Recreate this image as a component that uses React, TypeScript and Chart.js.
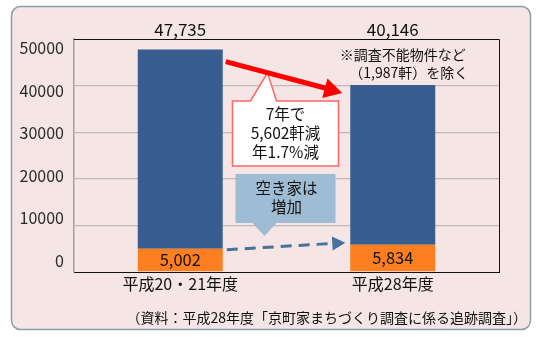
import { useEffect, useRef } from "react";
import { Chart, registerables } from "chart.js";

Chart.register(...registerables);

const categories = ["平成20・21年度", "平成28年度"];
const totalHouses = [47735, 40146];
const vacantHouses = [5002, 5834];
const yTicks = [0, 10000, 20000, 30000, 40000, 50000];
const totalLabels = ["47,735", "40,146"];
const vacantLabels = ["5,002", "5,834"];
const noteLines = ["※調査不能物件など", "（1,987軒）を除く"];
const decreaseLines = ["7年で", "5,602軒減", "年1.7%減"];
const vacantLines = ["空き家は", "増加"];
const sourceText = "（資料：平成28年度「京町家まちづくり調査に係る追跡調査」）";

const occupiedHouses = totalHouses.map((t, i) => t - vacantHouses[i]);

const FONT = "'Noto Sans CJK JP', 'Noto Sans', sans-serif";
const INK = "#111111";

function arrowHead(ctx: CanvasRenderingContext2D, x0: number, y0: number, x1: number, y1: number, len: number, half: number) {
  const dx = x1 - x0, dy = y1 - y0;
  const d = Math.hypot(dx, dy);
  const ux = dx / d, uy = dy / d;
  const bx = x1 - ux * len, by = y1 - uy * len;
  ctx.beginPath();
  ctx.moveTo(x1, y1);
  ctx.lineTo(bx - uy * half, by + ux * half);
  ctx.lineTo(bx + uy * half, by - ux * half);
  ctx.closePath();
  ctx.fill();
  return { bx, by };
}

const decor = {
  id: "decor",
  beforeDraw(chart: any) {
    const ctx = chart.ctx as CanvasRenderingContext2D;
    ctx.save();
    ctx.fillStyle = "#ffffff";
    ctx.fillRect(0, 0, chart.width, chart.height);
    ctx.beginPath();
    (ctx as any).roundRect(11.5, 6.5, 519, 323, 9);
    ctx.fillStyle = "#f6e5e5";
    ctx.fill();
    ctx.lineWidth = 1.5;
    ctx.strokeStyle = "#8c9fa7";
    ctx.stroke();
    ctx.restore();
  },
  afterDraw(chart: any) {
    const ctx = chart.ctx as CanvasRenderingContext2D;
    const ca = chart.chartArea;
    const xs = chart.scales.x;
    const orange = chart.getDatasetMeta(0).data;
    const blue = chart.getDatasetMeta(1).data;
    ctx.save();

    // frame top / right
    ctx.strokeStyle = "#111";
    ctx.lineWidth = 1;
    ctx.beginPath();
    ctx.moveTo(ca.left, Math.round(ca.top) + 0.5);
    ctx.lineTo(Math.round(ca.right) + 0.5, Math.round(ca.top) + 0.5);
    ctx.lineTo(Math.round(ca.right) + 0.5, ca.bottom);
    ctx.stroke();

    ctx.textAlign = "center";
    ctx.textBaseline = "middle";
    ctx.fillStyle = INK;

    // totals
    ctx.font = `17px ${FONT}`;
    blue.forEach((b: any, i: number) => {
      ctx.fillText(totalLabels[i], b.x, ca.top - 9);
    });
    // vacant values
    ctx.font = `16.5px ${FONT}`;
    orange.forEach((o: any, i: number) => {
      ctx.fillText(vacantLabels[i], o.x, (o.y + o.base) / 2);
    });

    const b1 = blue[0], b2 = blue[1];
    const o1 = orange[0], o2 = orange[1];
    const b1Right = b1.x + b1.width / 2;
    const b2Left = b2.x - b2.width / 2;
    const cx = xs.getPixelForValue(0.5) - 1;

    // note
    ctx.font = `14px ${FONT}`;
    ctx.fillText(noteLines[0], b2.x + 10, ca.top + 16);
    ctx.fillText(noteLines[1], b2.x + 16, ca.top + 34);

    // red arrow geometry
    const ax0 = b1Right + 3, ay0 = b1.y + 12;
    const ax1 = b2Left - 8, ay1 = b2.y + 8;
    const apexX = cx - 18;
    const apexY = ay0 + ((apexX - ax0) * (ay1 - ay0)) / (ax1 - ax0);

    // red callout
    const rL = cx - 53, rR = cx + 53, rT = ca.top + 62, rB = ca.top + 127;
    ctx.beginPath();
    ctx.moveTo(rL, rT);
    ctx.lineTo(cx - 35, rT);
    ctx.lineTo(apexX, apexY);
    ctx.lineTo(cx - 9, rT);
    ctx.lineTo(rR, rT);
    ctx.lineTo(rR, rB);
    ctx.lineTo(rL, rB);
    ctx.closePath();
    ctx.fillStyle = "#ffffff";
    ctx.fill();
    ctx.strokeStyle = "#ff6666";
    ctx.lineWidth = 1.5;
    ctx.stroke();
    ctx.fillStyle = INK;
    ctx.font = `15.5px ${FONT}`;
    decreaseLines.forEach((t, i) => ctx.fillText(t, cx, rT + 13 + i * 19));

    // red arrow
    ctx.fillStyle = "#ff0000";
    const h = arrowHead(ctx, ax0, ay0, ax1, ay1, 18, 10);
    ctx.strokeStyle = "#ff0000";
    ctx.lineWidth = 5;
    ctx.beginPath();
    ctx.moveTo(ax0, ay0);
    ctx.lineTo(h.bx + 1, h.by);
    ctx.stroke();

    // blue callout
    const bL = cx - 50, bR = cx + 50, bT = ca.top + 135, bB = ca.top + 184;
    ctx.beginPath();
    ctx.moveTo(bL, bT);
    ctx.lineTo(bR, bT);
    ctx.lineTo(bR, bB);
    ctx.lineTo(cx - 9, bB);
    ctx.lineTo(cx - 21, bB + 13);
    ctx.lineTo(cx - 33, bB);
    ctx.lineTo(bL, bB);
    ctx.closePath();
    ctx.fillStyle = "#9ebdd4";
    ctx.fill();
    ctx.fillStyle = INK;
    ctx.font = `15.5px ${FONT}`;
    vacantLines.forEach((t, i) => ctx.fillText(t, cx + 1, bT + 14 + i * 19));

    // dashed arrow
    const dx0 = b1Right + 4, dy0 = o1.y + 1;
    const dx1 = b2Left - 5, dy1 = o2.y - 2;
    ctx.fillStyle = "#44739b";
    const h2 = arrowHead(ctx, dx0, dy0, dx1, dy1, 13, 7);
    ctx.strokeStyle = "#44739b";
    ctx.lineWidth = 3;
    ctx.setLineDash([11, 7]);
    ctx.beginPath();
    ctx.moveTo(dx0, dy0);
    ctx.lineTo(h2.bx - 2, h2.by);
    ctx.stroke();
    ctx.setLineDash([]);

    // source
    ctx.fillStyle = INK;
    ctx.font = `14px ${FONT}`;
    ctx.textAlign = "right";
    ctx.fillText(sourceText, 527, 318);

    ctx.restore();
  },
};

export default function App() {
  const ref = useRef<HTMLCanvasElement | null>(null);
  useEffect(() => {
    if (!ref.current) return;
    Chart.defaults.font.family = FONT;
    const chart = new Chart(ref.current, {
      type: "bar",
      data: {
        labels: categories,
        datasets: [
          {
            label: "空き家",
            data: vacantHouses,
            backgroundColor: "#fe7f1f",
            borderWidth: 0,
            barPercentage: 0.4,
            categoryPercentage: 1,
          },
          {
            label: "京町家",
            data: occupiedHouses,
            backgroundColor: "#375e8f",
            borderWidth: 0,
            barPercentage: 0.4,
            categoryPercentage: 1,
          },
        ],
      },
      options: {
        responsive: false,
        animation: false,
        layout: { padding: { left: 0, top: 39, right: 39, bottom: 0 } },
        plugins: { legend: { display: false }, tooltip: { enabled: false } },
        scales: {
          x: {
            stacked: true,
            grid: { display: false },
            border: { color: "#111", width: 1 },
            ticks: { font: { size: 16, family: FONT }, color: INK, padding: -6 },
            afterFit: (s: any) => {
              s.height = 65;
            },
          },
          y: {
            stacked: true,
            min: 0,
            max: 50000,
            weight: 0,
            ticks: { display: false, stepSize: 10000 },
            grid: {
              drawTicks: false,
              lineWidth: 1.3,
              color: (c: any) =>
                c.tick && (c.tick.value === 0 || c.tick.value === 50000) ? "rgba(0,0,0,0)" : "#c3b7b7",
            },
            border: { color: "#a69d9d", width: 1.5 },
            afterFit: (s: any) => {
              s.width = 0;
            },
          },
          yLabels: {
            type: "linear",
            position: "left",
            min: -2606,
            max: 52136,
            weight: 1,
            grid: { display: false },
            border: { display: false },
            ticks: {
              padding: 2,
              font: { size: 16, family: FONT },
              color: "#2a2a2a",
              callback: (v: any) => String(v),
            },
            afterBuildTicks: (s: any) => {
              s.ticks = yTicks.map((v) => ({ value: v }));
            },
            afterFit: (s: any) => {
              s.width = 74;
            },
          },
        } as any,
      },
      plugins: [decor],
    });
    return () => chart.destroy();
  }, []);
  return (
    <div style={{ position: "fixed", left: 0, top: 0, width: 538, height: 337 }}>
      <canvas ref={ref} width={538} height={337} style={{ display: "block" }} />
    </div>
  );
}
